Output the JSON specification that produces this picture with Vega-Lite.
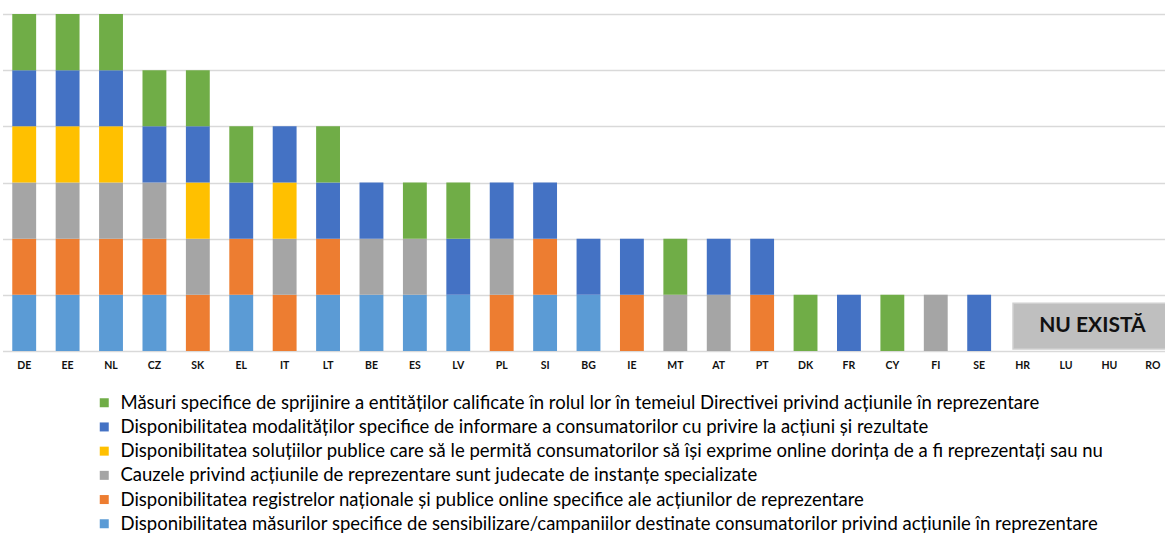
{
  "$schema": "https://vega.github.io/schema/vega-lite/v6.json",
  "autosize": "none",
  "width": 1162.5,
  "height": 337,
  "padding": {"left": 2.5, "top": 14, "right": 0, "bottom": 184},
  "background": "white",
  "config": {"view": {"stroke": null}},
  "datasets": {
    "cats": [
      {"k": "f", "name": "Măsuri specifice de sprijinire a entităților calificate în rolul lor în temeiul Directivei privind acțiunile în reprezentare"},
      {"k": "e", "name": "Disponibilitatea modalităților specifice de informare a consumatorilor cu privire la acțiuni și rezultate"},
      {"k": "d", "name": "Disponibilitatea soluțiilor publice care să le permită consumatorilor să își exprime online dorința de a fi reprezentați sau nu"},
      {"k": "c", "name": "Cauzele privind acțiunile de reprezentare sunt judecate de instanțe specializate"},
      {"k": "b", "name": "Disponibilitatea registrelor naționale și publice online specifice ale acțiunilor de reprezentare"},
      {"k": "a", "name": "Disponibilitatea măsurilor specifice de sensibilizare/campaniilor destinate consumatorilor privind acțiunile în reprezentare"}
    ],
    "rows": [
      {"c": "DE", "k": "a", "v": 1}, {"c": "DE", "k": "b", "v": 1}, {"c": "DE", "k": "c", "v": 1}, {"c": "DE", "k": "d", "v": 1}, {"c": "DE", "k": "e", "v": 1}, {"c": "DE", "k": "f", "v": 1},
      {"c": "EE", "k": "a", "v": 1}, {"c": "EE", "k": "b", "v": 1}, {"c": "EE", "k": "c", "v": 1}, {"c": "EE", "k": "d", "v": 1}, {"c": "EE", "k": "e", "v": 1}, {"c": "EE", "k": "f", "v": 1},
      {"c": "NL", "k": "a", "v": 1}, {"c": "NL", "k": "b", "v": 1}, {"c": "NL", "k": "c", "v": 1}, {"c": "NL", "k": "d", "v": 1}, {"c": "NL", "k": "e", "v": 1}, {"c": "NL", "k": "f", "v": 1},
      {"c": "CZ", "k": "a", "v": 1}, {"c": "CZ", "k": "b", "v": 1}, {"c": "CZ", "k": "c", "v": 1}, {"c": "CZ", "k": "e", "v": 1}, {"c": "CZ", "k": "f", "v": 1},
      {"c": "SK", "k": "b", "v": 1}, {"c": "SK", "k": "c", "v": 1}, {"c": "SK", "k": "d", "v": 1}, {"c": "SK", "k": "e", "v": 1}, {"c": "SK", "k": "f", "v": 1},
      {"c": "EL", "k": "a", "v": 1}, {"c": "EL", "k": "b", "v": 1}, {"c": "EL", "k": "e", "v": 1}, {"c": "EL", "k": "f", "v": 1},
      {"c": "IT", "k": "b", "v": 1}, {"c": "IT", "k": "c", "v": 1}, {"c": "IT", "k": "d", "v": 1}, {"c": "IT", "k": "e", "v": 1},
      {"c": "LT", "k": "a", "v": 1}, {"c": "LT", "k": "b", "v": 1}, {"c": "LT", "k": "e", "v": 1}, {"c": "LT", "k": "f", "v": 1},
      {"c": "BE", "k": "a", "v": 1}, {"c": "BE", "k": "c", "v": 1}, {"c": "BE", "k": "e", "v": 1},
      {"c": "ES", "k": "a", "v": 1}, {"c": "ES", "k": "c", "v": 1}, {"c": "ES", "k": "f", "v": 1},
      {"c": "LV", "k": "a", "v": 1}, {"c": "LV", "k": "e", "v": 1}, {"c": "LV", "k": "f", "v": 1},
      {"c": "PL", "k": "b", "v": 1}, {"c": "PL", "k": "c", "v": 1}, {"c": "PL", "k": "e", "v": 1},
      {"c": "SI", "k": "a", "v": 1}, {"c": "SI", "k": "b", "v": 1}, {"c": "SI", "k": "e", "v": 1},
      {"c": "BG", "k": "a", "v": 1}, {"c": "BG", "k": "e", "v": 1},
      {"c": "IE", "k": "b", "v": 1}, {"c": "IE", "k": "e", "v": 1},
      {"c": "MT", "k": "c", "v": 1}, {"c": "MT", "k": "f", "v": 1},
      {"c": "AT", "k": "c", "v": 1}, {"c": "AT", "k": "e", "v": 1},
      {"c": "PT", "k": "b", "v": 1}, {"c": "PT", "k": "e", "v": 1},
      {"c": "DK", "k": "f", "v": 1},
      {"c": "FR", "k": "e", "v": 1},
      {"c": "CY", "k": "f", "v": 1},
      {"c": "FI", "k": "c", "v": 1},
      {"c": "SE", "k": "e", "v": 1}
    ]
  },
  "layer": [
    {
      "data": {"name": "rows"},
      "transform": [
        {"lookup": "k", "from": {"data": {"name": "cats"}, "key": "k", "fields": ["name"]}}
      ],
      "mark": {"type": "bar"},
      "encoding": {
        "x": {
          "field": "c", "type": "nominal",
          "scale": {
            "domain": ["DE","EE","NL","CZ","SK","EL","IT","LT","BE","ES","LV","PL","SI","BG","IE","MT","AT","PT","DK","FR","CY","FI","SE","HR","LU","HU","RO"],
            "range": [0, 1172],
            "paddingInner": 0.45, "paddingOuter": 0.225
          },
          "axis": {
            "title": null, "labelAngle": 0, "ticks": false, "tickSize": 0, "domain": false,
            "labelPadding": 9, "labelFont": "Lato", "labelFontSize": 10.5,
            "labelFontWeight": "bold", "labelColor": "#111111"
          }
        },
        "y": {
          "field": "v", "type": "quantitative", "stack": "zero",
          "scale": {"domain": [0, 6], "nice": false},
          "axis": {
            "title": null, "labels": false, "ticks": false, "domain": false,
            "values": [0, 1, 2, 3, 4, 5, 6], "grid": true,
            "gridColor": "#d9d9d9", "gridWidth": 1.5
          }
        },
        "order": {"field": "k", "sort": "ascending"},
        "color": {
          "field": "name", "type": "nominal",
          "scale": {
            "domain": [
              "Măsuri specifice de sprijinire a entităților calificate în rolul lor în temeiul Directivei privind acțiunile în reprezentare",
              "Disponibilitatea modalităților specifice de informare a consumatorilor cu privire la acțiuni și rezultate",
              "Disponibilitatea soluțiilor publice care să le permită consumatorilor să își exprime online dorința de a fi reprezentați sau nu",
              "Cauzele privind acțiunile de reprezentare sunt judecate de instanțe specializate",
              "Disponibilitatea registrelor naționale și publice online specifice ale acțiunilor de reprezentare",
              "Disponibilitatea măsurilor specifice de sensibilizare/campaniilor destinate consumatorilor privind acțiunile în reprezentare"
            ],
            "range": ["#70ad47", "#4472c4", "#ffc000", "#a5a5a5", "#ed7d31", "#5b9bd5"]
          },
          "legend": {
            "title": null, "orient": "none", "legendX": 92.5, "legendY": 379.5,
            "direction": "vertical", "symbolType": "square", "symbolSize": 81,
            "symbolStrokeWidth": 0, "labelFont": "Lato", "labelFontSize": 18.5,
            "labelColor": "#000000", "labelLimit": 1100, "labelOffset": 7, "rowPadding": 5.2
          }
        }
      }
    },
    {
      "data": {"values": [{}]},
      "mark": {"type": "rect", "fill": "#bfbfbf", "stroke": "#d0d0d0", "strokeWidth": 1.5},
      "encoding": {
        "x": {"datum": "HR", "type": "nominal", "bandPosition": 0.1},
        "x2": {"datum": "RO", "bandPosition": 1.2},
        "y": {"datum": 0.85, "type": "quantitative"},
        "y2": {"datum": 0.035}
      }
    },
    {
      "data": {"values": [{}]},
      "mark": {"type": "text", "text": "NU EXISTĂ", "font": "Lato", "fontSize": 21, "fontWeight": "bold", "color": "#111111", "dx": -17, "baseline": "middle", "align": "center"},
      "encoding": {
        "x": {"datum": "HU", "type": "nominal"},
        "y": {"datum": 0.44, "type": "quantitative"}
      }
    }
  ]
}
